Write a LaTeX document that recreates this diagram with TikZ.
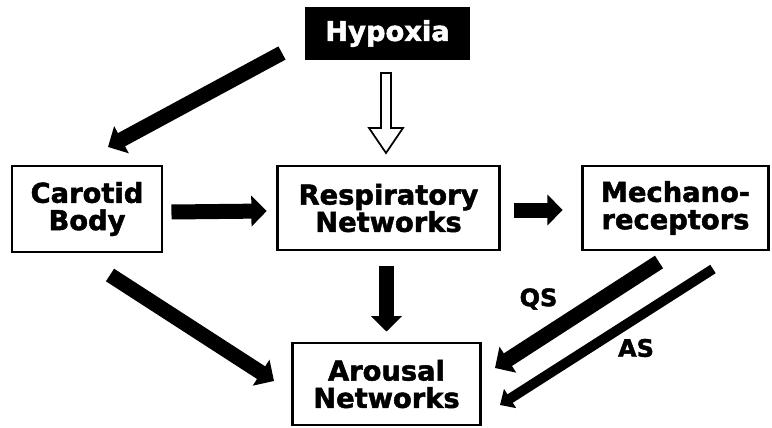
\documentclass[tikz,border=0pt]{standalone}
\usepackage{fontspec}
\newfontfamily\lblfont{DejaVu Sans Bold}[FakeStretch=1.0,FakeBold=1.8]
\usetikzlibrary{arrows.meta,calc}
\begin{document}
\begin{tikzpicture}[x=0.75pt,y=-0.75pt,
  box/.style={draw=black,line width=2.2pt,inner sep=0pt,align=center,
    font=\lblfont\fontsize{20.5}{20.5}\selectfont},
  blk/.style={draw=black,line width=11.25pt,-{Triangle[length=11.5pt,width=22.5pt]}},
  thin/.style={draw=black,line width=7.5pt,-{Triangle[length=9pt,width=16.5pt]}},
  lbl/.style={font=\lblfont\fontsize{18}{18}\selectfont,inner sep=0pt}]
\useasboundingbox (0,0) rectangle (772,428);
\node[box,fill=black,text=white,minimum width=121pt,minimum height=38pt] (hyp) at (387.5,33.5) {Hypoxia};
\node[box,minimum width=112.5pt,minimum height=64.5pt] (cb) at (87,209) {Carotid\\Body};
\node[box,minimum width=167pt,minimum height=63pt] (rn) at (388.5,208) {Respiratory\\Networks};
\node[box,minimum width=140pt,minimum height=63pt] (mr) at (675.5,208) {Mechano-\\receptors};
\node[box,minimum width=141.5pt,minimum height=61.5pt] (ar) at (386.5,384) {Arousal\\Networks};
% hollow arrow
\coordinate (ht) at (386,73);
\draw[fill=white,line width=1.3pt,line join=miter]
  ($(ht)+(-5,0)$) -- ($(ht)+(5,0)$) -- ($(ht)+(5,55)$) -- ($(ht)+(17,55)$)
  -- ($(ht)+(0,80)$) -- ($(ht)+(-17,55)$) -- ($(ht)+(-5,55)$) -- cycle;
% block arrows
\draw[blk] ($(cb.east)+(8,3)$) -- ($(rn.west)+(-9,3)$);
\draw[blk] ($(rn.east)+(13,2)$) -- ($(mr.west)+(-18,2)$);
\draw[blk] ($(ar.north |- rn.south)+(0,15)$) -- ($(ar.north)+(0,-10)$);
\coordinate (h1) at (282,53);
\coordinate (c1) at (108,147);
\draw[blk] (h1) -- (c1);
\coordinate (c2) at (110,275);
\coordinate (a1) at (274,381);
\draw[blk] (c2) -- (a1);
\coordinate (m1) at (659,262);
\coordinate (a2) at (495,368);
\draw[blk] (m1) -- (a2);
\coordinate (m2) at (713,269);
\coordinate (a3) at (500,405);
\draw[thin] (m2) -- (a3);
\node[lbl] (qs) at (538.5,299) {QS};
\node[lbl] (as) at (636,348) {AS};
\end{tikzpicture}
\end{document}
